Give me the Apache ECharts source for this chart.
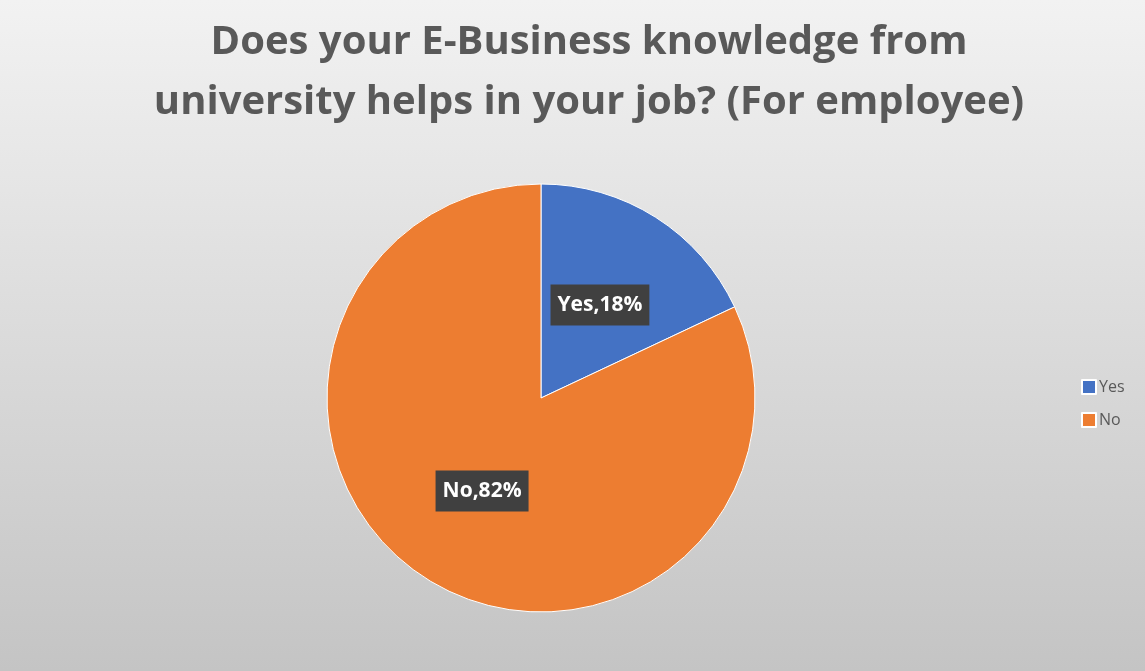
<!DOCTYPE html>
<html>
<head>
<meta charset="utf-8">
<script src="https://cdn.jsdelivr.net/npm/echarts@6/dist/echarts.min.js"></script>
<style>
  html, body { margin: 0; padding: 0; background: #fff; }
  #main { width: 1145px; height: 671px; }
</style>
</head>
<body>
<div id="main"></div>
<script>
// data
const categories = ["Yes", "No"];
const shares = [18, 82];
const colors = ["#4472c4", "#ed7d31"];

const chart = echarts.init(document.getElementById("main"));

const option = {
  backgroundColor: {
    type: "linear", x: 0, y: 0, x2: 0, y2: 1,
    colorStops: [
      { offset: 0, color: "#f2f2f2" },
      { offset: 1, color: "#c4c4c4" }
    ]
  },
  color: colors,
  title: {
    text: "Does your E-Business knowledge from\nuniversity helps in your job? (For employee)",
    left: 584,
    textAlign: "center",
    top: 8,
    textStyle: {
      fontFamily: "Open Sans",
      fontWeight: "bold",
      fontSize: 40,
      lineHeight: 60,
      color: "#595959"
    }
  },
  legend: {
    orient: "vertical",
    left: 1076,
    top: 374,
    itemWidth: 14,
    itemHeight: 14,
    itemGap: 17,
    icon: "rect",
    data: categories,
    textStyle: { fontFamily: "Open Sans", fontSize: 16, color: "#595959", padding: [0, 0, 0, -2] }
  },
  series: [{
    type: "pie",
    center: [541, 398],
    radius: 214,
    startAngle: 90,
    clockwise: true,
    label: {
      show: true,
      position: "inside",
      formatter: "{b},{d}%",
      color: "#fff",
      fontFamily: "Open Sans",
      fontWeight: "bold",
      fontSize: 21,
      backgroundColor: "#404040",
      padding: [10, 7, 10, 7]
    },
    labelLine: { show: false },
    itemStyle: { borderColor: "#ffffff", borderWidth: 1 },
    emphasis: { disabled: true },
    data: categories.map((c, i) => ({ name: c, value: shares[i] }))
  }]
};

chart.setOption(option);
</script>
</body>
</html>
